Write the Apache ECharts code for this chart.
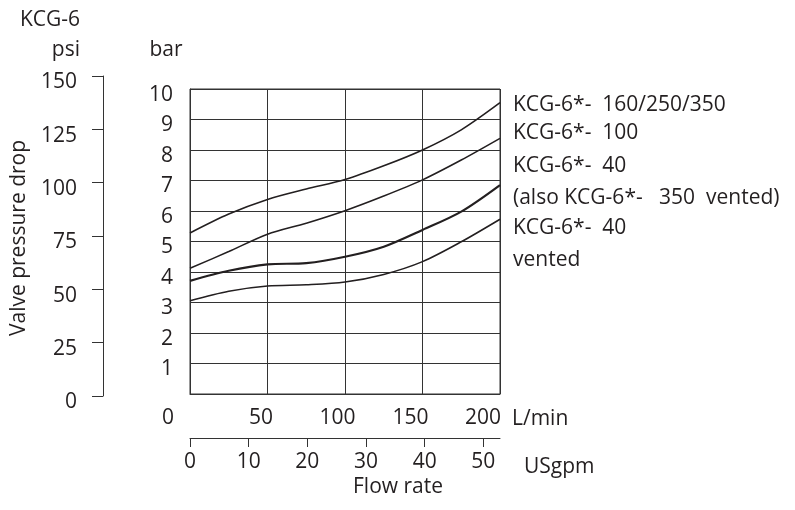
<!DOCTYPE html>
<html>
<head>
<meta charset="utf-8">
<title>KCG-6 valve pressure drop</title>
<script src="https://cdn.jsdelivr.net/npm/echarts@6/dist/echarts.min.js"></script>
<style>
    html, body { margin: 0; padding: 0; background: #fff; }
    #chart { width: 795px; height: 510px; }
</style>
</head>
<body>
<div id="chart"></div>
<script>
// flow in L/min where the curves were read
var flowLpm = [0, 25, 50, 75, 100, 125, 150, 175, 200];
// pressure drop in bar
var drop160 = [5.28, 5.9, 6.38, 6.72, 7.03, 7.48, 8.0, 8.66, 9.55];
var drop100 = [4.12, 4.67, 5.24, 5.6, 6.01, 6.49, 7.02, 7.67, 8.38];
var drop40 = [3.71, 4.04, 4.25, 4.29, 4.5, 4.83, 5.38, 5.98, 6.85];
var drop40v = [3.06, 3.37, 3.54, 3.58, 3.67, 3.92, 4.34, 4.99, 5.73];
var gpmTicks = [0, 10, 20, 30, 40, 50];
var curveNames = [
    "KCG-6*-  160/250/350",
    "KCG-6*-  100",
    "KCG-6*-  40",
    "(also KCG-6*-   350  vented)",
    "KCG-6*-  40",
    "vented"
];

var font = "Open Sans";
var ink = "#231f20";
var fs = 21;

function pairs(ys) {
    return flowLpm.map(function (x, i) {
        return [x, ys[i]];
    });
}

function curve(ys, w) {
    return {
        type: "line",
        xAxisIndex: 0,
        yAxisIndex: 0,
        data: pairs(ys),
        smooth: 0.3,
        symbol: "none",
        lineStyle: { color: ink, width: w },
        silent: true
    };
}

var labelY = [105, 133, 166, 198, 228, 260];

// L/min labels sit a little left of their grid lines, more so towards the right
function shift(px) {
    return { fontSize: fs, fontFamily: font, color: ink, padding: [0, px, 0, 0] };
}

var chart = echarts.init(document.getElementById("chart"));
chart.setOption({
    animation: false,
    textStyle: { fontFamily: font, color: ink },
    grid: [
        // main plot
        { left: 190, top: 89, width: 310, height: 305, show: true, borderColor: "#333", borderWidth: 1 },
        // psi scale
        { left: 103, top: 76, width: 1, height: 320 },
        // USgpm scale
        { left: 190, top: 437, width: 310, height: 1 }
    ],
    xAxis: [
        {
            gridIndex: 0,
            type: "value",
            min: 0,
            max: 200,
            interval: 50,
            name: "L/min",
            nameLocation: "end",
            nameGap: 12,
            nameTextStyle: { fontSize: fs, fontFamily: font, color: ink, verticalAlign: "top", lineHeight: 50 },
            axisLine: { show: true, lineStyle: { color: "#333", width: 1 } },
            axisTick: { show: false },
            splitLine: { show: true, lineStyle: { color: "#333", width: 1 } },
            axisLabel: {
                fontSize: fs,
                fontFamily: font,
                color: ink,
                margin: 14,
                formatter: function (v) {
                    return "{s" + v + "|" + v + "}";
                },
                rich: {
                    s0: shift(44),
                    s50: shift(13),
                    s100: shift(15),
                    s150: shift(24),
                    s200: shift(34)
                }
            }
        },
        { gridIndex: 1, type: "value", show: false },
        {
            gridIndex: 2,
            type: "value",
            position: "bottom",
            min: 0,
            max: 200 / 3.785,
            name: "USgpm",
            nameLocation: "end",
            nameGap: 24,
            nameTextStyle: { fontSize: fs, fontFamily: font, color: ink, verticalAlign: "top", lineHeight: 58 },
            axisLine: { show: true, lineStyle: { color: "#333", width: 1 } },
            axisTick: { show: true, length: 9, customValues: gpmTicks, lineStyle: { color: "#333" } },
            splitLine: { show: false },
            axisLabel: { fontSize: fs, fontFamily: font, color: ink, margin: 14, customValues: gpmTicks }
        }
    ],
    yAxis: [
        {
            gridIndex: 0,
            type: "value",
            min: 0,
            max: 10,
            interval: 1,
            name: "bar",
            nameLocation: "end",
            nameGap: 28,
            nameTextStyle: { fontSize: fs, fontFamily: font, color: ink, padding: [0, 48, 0, 0] },
            axisLine: { show: true, lineStyle: { color: "#333", width: 1 } },
            axisTick: { show: false },
            splitLine: { show: true, lineStyle: { color: "#333", width: 1 } },
            axisLabel: {
                fontSize: fs,
                fontFamily: font,
                color: ink,
                margin: 17,
                verticalAlign: "top",
                lineHeight: 12,
                formatter: function (v) {
                    return v === 0 ? "" : v;
                }
            }
        },
        {
            gridIndex: 1,
            type: "value",
            min: 0,
            max: 150,
            interval: 25,
            name: "KCG-6\npsi",
            nameLocation: "end",
            nameGap: 11,
            nameTextStyle: { fontSize: fs, fontFamily: font, color: ink, align: "right", lineHeight: 30, padding: [0, 23, 0, 0] },
            axisLine: { show: true, lineStyle: { color: "#333", width: 1 } },
            axisTick: { show: true, length: 11, lineStyle: { color: "#333" } },
            splitLine: { show: false },
            axisLabel: { fontSize: fs, fontFamily: font, color: ink, margin: 26, verticalAlign: "top", lineHeight: 13 }
        },
        { gridIndex: 2, type: "value", show: false }
    ],
    graphic: curveNames.map(function (t, i) {
        return {
            type: "text",
            x: 513,
            y: labelY[i],
            style: { text: t, fontSize: fs, fontFamily: font, fill: ink, align: "left", verticalAlign: "middle" }
        };
    }).concat([
        {
            type: "text",
            x: 19,
            y: 238,
            rotation: Math.PI / 2,
            style: { text: "Valve pressure drop", fontSize: fs, fontFamily: font, fill: ink, align: "center", verticalAlign: "middle" }
        },
        {
            type: "text",
            x: 398,
            y: 487,
            style: { text: "Flow rate", fontSize: fs, fontFamily: font, fill: ink, align: "center", verticalAlign: "middle" }
        }
    ]),
    series: [
        curve(drop160, 1.6),
        curve(drop100, 1.6),
        curve(drop40, 2.2),
        curve(drop40v, 1.6)
    ]
});
</script>
</body>
</html>
